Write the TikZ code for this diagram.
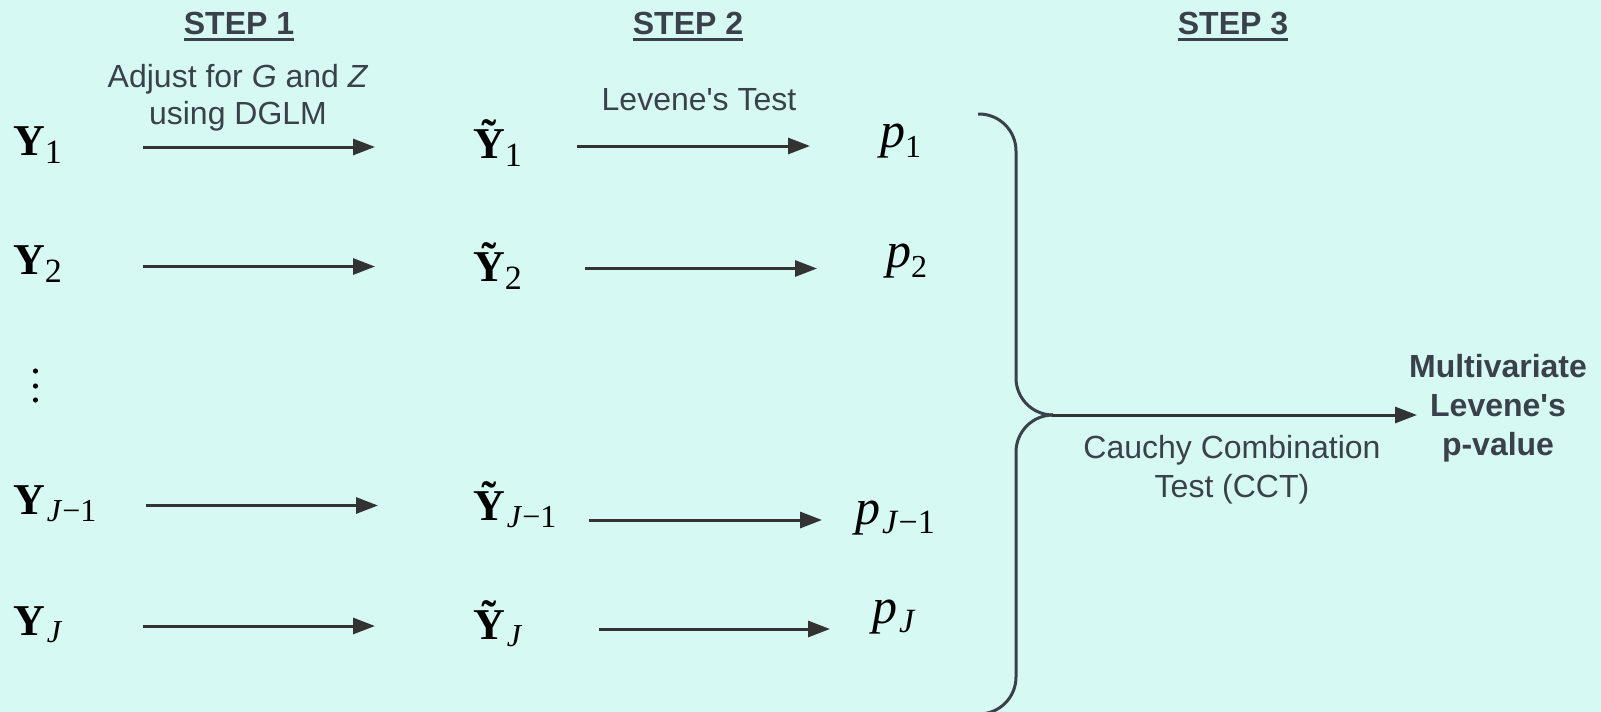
\documentclass[tikz,border=0pt]{standalone}
\usepackage{fontspec}
\setmainfont{Liberation Sans}
\newfontfamily\serifm{Liberation Serif}
\usetikzlibrary{arrows.meta}
\definecolor{bgc}{RGB}{214,249,243}
\definecolor{txtc}{RGB}{58,65,74}
\definecolor{arrc}{RGB}{51,51,51}
\newcommand\VarY[4]{{\serifm\fontsize{44}{44}\selectfont\bfseries #1}\raisebox{-#4pt}{\serifm\fontsize{#3}{#3}\selectfont #2}}
\newcommand\VarP[3]{{\serifm\fontsize{50}{50}\selectfont\itshape p}\raisebox{-#3pt}{\serifm\fontsize{#2}{#2}\selectfont #1}}
\newcommand\subJ{\kern2pt\textit{J}}
\begin{document}
\begin{tikzpicture}[x=1pt,y=-1pt,
  lbl/.style={inner sep=0,anchor=base,text=txtc,font=\fontsize{32}{38}\selectfont},
  blbl/.style={lbl,font=\fontsize{32}{38}\selectfont\bfseries},
  mth/.style={inner sep=0,anchor=base west,text=black},
  arr/.style={draw=arrc,line width=3,-{Triangle[length=22,width=16]},fill=arrc},
  brc/.style={draw=txtc,line width=3,rounded corners=37}]
\fill[bgc] (0,0) rectangle (1601,712);
\useasboundingbox (0,0) rectangle (1601,712);
% step headings
\node[blbl] (s1) at (239,34.5) {STEP 1};
\node[blbl] (s2) at (688,34.5) {STEP 2};
\node[blbl] (s3) at (1233,34.5) {STEP 3};
\foreach \s in {s1,s2,s3}{
  \draw[txtc,line width=2.5] ([yshift=-5]\s.base west) -- ([yshift=-5]\s.base east);}
% labels
\node[lbl] (adj1) at (238,87) {Adjust for \textit{G} and \textit{Z}};
\node[lbl] (adj2) at (238,124) {using DGLM};
\node[lbl] (lev) at (699,110.5) {Levene\textquotesingle s Test};
\node[lbl] (cct1) at (1232,458.5) {Cauchy Combination};
\node[lbl] (cct2) at (1232,497.5) {Test (CCT)};
\node[blbl] (mv1) at (1498,377) {Multivariate};
\node[blbl] (mv2) at (1498,416) {Levene\textquotesingle s};
\node[blbl] (mv3) at (1498,455) {p-value};
% column 1
\node[mth] (Y1) at (13,155) {\VarY{Y}{1}{34}{8}};
\node[mth] (Y2) at (13,274.5) {\VarY{Y}{2}{34}{8}};
\node[mth] (YJm) at (13,514) {\VarY{Y}{\subJ−1}{32}{7}};
\node[mth] (YJ) at (13,635) {\VarY{Y}{\subJ}{32}{7}};
% column 2
\node[mth] (T1) at (473,158) {\VarY{Ỹ}{1}{34}{8}};
\node[mth] (T2) at (473,281) {\VarY{Ỹ}{2}{34}{8}};
\node[mth] (TJm) at (473,520) {\VarY{Ỹ}{\subJ−1}{32}{7}};
\node[mth] (TJ) at (473,639) {\VarY{Ỹ}{\subJ}{32}{7}};
% column 3
\node[mth] (P1) at (880,147) {\VarP{1}{32}{10}};
\node[mth] (P2) at (886,267.5) {\VarP{2}{32}{10}};
\node[mth] (PJm) at (855,524) {\VarP{\subJ−1}{34}{9}};
\node[mth] (PJ) at (872,623) {\VarP{\subJ}{34}{9}};
% vertical dots
\foreach \yy in {371,386,400} \fill[black] (35.5,\yy) circle (2.6);
% arrow end points
\coordinate (a1s) at (143,147);   \coordinate (a1e) at (375,147);
\coordinate (b1s) at (577,146);   \coordinate (b1e) at (810,146);
\coordinate (a2s) at (143,266.5); \coordinate (a2e) at (375,266.5);
\coordinate (b2s) at (585,268.5); \coordinate (b2e) at (817,268.5);
\coordinate (a3s) at (146,505.5); \coordinate (a3e) at (378,505.5);
\coordinate (b3s) at (589,520);   \coordinate (b3e) at (822,520);
\coordinate (a4s) at (143,626);   \coordinate (a4e) at (375,626);
\coordinate (b4s) at (599,629);   \coordinate (b4e) at (830,629);
\foreach \p in {a1,b1,a2,b2,a3,b3,a4,b4}{\draw[arr] (\p s) -- (\p e);}
% brace
\coordinate (btop) at (978,114);
\coordinate (tip) at (1052,415);
\coordinate (bbot) at (979,714);
\draw[brc] (btop) -- (1016,114) -- (1016,415) -- (tip);
\draw[brc] (tip) -- (1016,415) -- (1016,714) -- (bbot);
\coordinate (mvin) at (1417,415);
\draw[arr] (tip) -- (mvin);
\end{tikzpicture}
\end{document}
